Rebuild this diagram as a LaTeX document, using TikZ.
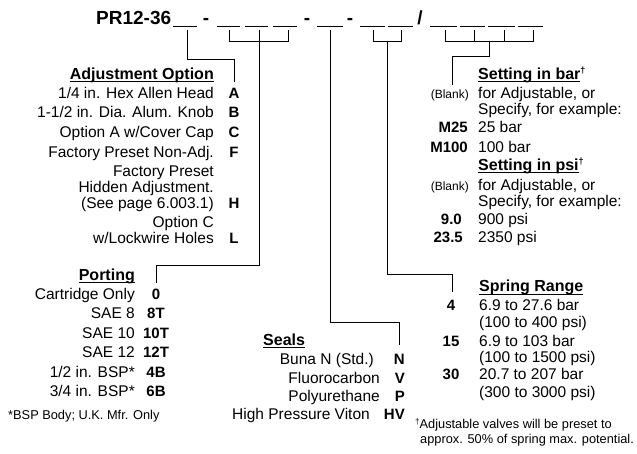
\documentclass[tikz,border=0pt]{standalone}
\usepackage{fontspec}
\setmainfont{Liberation Sans}
\newcommand\myul[1]{\setbox0\hbox{#1}\rlap{\rule[-2.4pt]{\wd0}{0.9pt}}\box0}
\begin{document}
\begin{tikzpicture}[x=1pt,y=-1pt,
  txt/.style={inner sep=0pt, font=\fontsize{15.5}{17}\selectfont},
  rt/.style={txt, anchor=base east},
  lt/.style={txt, anchor=base west},
  cd/.style={inner sep=0pt, anchor=base, font=\fontsize{15}{17}\selectfont\bfseries},
  cdr/.style={cd, anchor=base east},
  hd/.style={inner sep=0pt, font=\fontsize{16}{18}\selectfont\bfseries},
  sm/.style={inner sep=0pt, anchor=base east, font=\fontsize{12}{14}\selectfont},
  fn/.style={inner sep=0pt, anchor=base west, font=\fontsize{12.8}{15}\selectfont},
  ttl/.style={inner sep=0pt, anchor=base, font=\fontsize{19}{21}\selectfont\bfseries},
  wire/.style={line width=0.9pt},
  blank/.style={line width=0.9pt}]
\useasboundingbox (0,0) rectangle (637,454);

% ---------- title and blanks ----------
\node[ttl, anchor=base west] (title) at (96,25) {PR12-36};
\node[ttl] (d1) at (206,25) {-};
\node[ttl] (d2) at (307,25) {-};
\node[ttl] (d3) at (350,25) {-};
\node[ttl] (sl) at (420,25) {/};

\foreach \a/\b in {173/197, 217/240, 245/268, 273/297, 317/343,
                   360/385, 388/413, 430/457, 460/485, 488/515, 518/543}
  \draw[blank] (\a,26) -- (\b,26);

% tick coordinates
\coordinate (b1) at (187,30);
\coordinate (p1) at (229,30); \coordinate (p2) at (259,30); \coordinate (p3) at (288,30);
\coordinate (s1) at (330,30);
\coordinate (r1) at (373,30); \coordinate (r2) at (401,30);
\coordinate (k1) at (445,30); \coordinate (k2) at (474,30); \coordinate (k3) at (504,30); \coordinate (k4) at (533,30);

% connector end points
\coordinate (adjend) at (234,82);
\coordinate (portend) at (156,283);
\coordinate (sealend) at (399,345);
\coordinate (sprend) at (452,292);
\coordinate (setend) at (452,85);

% brackets
\draw[wire] (p1) -- ++(0,11) -| (p3);
\draw[wire] (p2) -- ++(0,11);
\draw[wire] (r1) -- ++(0,11) -| (r2);
\draw[wire] (k1) -- ++(0,11) -| (k4);
\draw[wire] (k2) -- ++(0,11);
\draw[wire] (k3) -- ++(0,11);

% connectors
\draw[wire] (b1) |- (234,59) -- (adjend);
\draw[wire] (p2) -- (259,265) -| (portend);
\draw[wire] (s1) -- (330,322) -| (sealend);
\draw[wire] (387,41) -- (387,274) -| (sprend);
\draw[wire] (489,41) -- (489,56) -| (setend);

% ---------- Adjustment Option ----------
\node[hd, anchor=base east] (hadj) at (214,80) {\myul{Adjustment Option}};
\node[rt] (a1) at (214,99) {1/4 in. Hex Allen Head};
\node[cd] (cA) at (234,99) {A};
\node[rt] (a2) at (214,118) {1-1/2 in. Dia. Alum. Knob};
\node[cd] (cB) at (234,118) {B};
\node[rt] (a3) at (214,138) {Option A w/Cover Cap};
\node[cd] (cC) at (234,138) {C};
\node[rt] (a4) at (214,158) {Factory Preset Non-Adj.};
\node[cd] (cF) at (234,158) {F};
\node[rt] (a5) at (214,177) {Factory Preset};
\node[rt] (a6) at (214,193) {Hidden Adjustment.};
\node[rt] (a7) at (214,209) {(See page 6.003.1)};
\node[cd] (cH) at (234,209) {H};
\node[rt] (a8) at (214,228) {Option C};
\node[rt] (a9) at (214,244) {w/Lockwire Holes};
\node[cd] (cL) at (234,244) {L};

% ---------- Setting ----------
\node[hd, anchor=base west] (hbar) at (478,80) {\myul{Setting in bar}\raisebox{6pt}{\fontsize{9}{9}\selectfont †}};
\node[sm] (bl1) at (469,99) {(Blank)};
\node[lt] (g1) at (478,99) {for Adjustable, or};
\node[lt] (g2) at (478,115) {Specify, for example:};
\node[cdr] (cM25) at (468,133) {M25};
\node[lt] (g3) at (478,133) {25 bar};
\node[cdr] (cM100) at (468,153) {M100};
\node[lt] (g4) at (478,153) {100 bar};
\node[hd, anchor=base west] (hpsi) at (478,171) {\myul{Setting in psi}\raisebox{6pt}{\fontsize{9}{9}\selectfont †}};
\node[sm] (bl2) at (469,191) {(Blank)};
\node[lt] (g5) at (478,191) {for Adjustable, or};
\node[lt] (g6) at (478,207) {Specify, for example:};
\node[cdr] (c90) at (462,225) {9.0};
\node[lt] (g7) at (478,225) {900 psi};
\node[cdr] (c235) at (463,243) {23.5};
\node[lt] (g8) at (478,243) {2350 psi};

% ---------- Porting ----------
\node[hd, anchor=base east] (hport) at (135,280) {\myul{Porting}};
\node[rt] (q1) at (135,299) {Cartridge Only};
\node[cd] (c0) at (156,299) {0};
\node[rt] (q2) at (135,319) {SAE 8};
\node[cd] (c8T) at (156,319) {8T};
\node[rt] (q3) at (135,338) {SAE 10};
\node[cd] (c10T) at (156,338) {10T};
\node[rt] (q4) at (135,357) {SAE 12};
\node[cd] (c12T) at (156,357) {12T};
\node[rt] (q5) at (135,377) {1/2 in. BSP*};
\node[cd] (c4B) at (156,377) {4B};
\node[rt] (q6) at (135,396) {3/4 in. BSP*};
\node[cd] (c6B) at (156,396) {6B};
\node[fn] (bspnote) at (8,419) {*BSP Body; U.K. Mfr. Only};

% ---------- Seals ----------
\node[hd, anchor=base west] (hseal) at (263,345) {\myul{Seals}};
\node[rt] (e1) at (374,364) {Buna N (Std.)};
\node[cdr] (cN) at (405,364) {N};
\node[rt] (e2) at (380,383) {Fluorocarbon};
\node[cdr] (cV) at (405,383) {V};
\node[rt] (e3) at (380,401) {Polyurethane};
\node[cdr] (cP) at (405,401) {P};
\node[rt] (e4) at (370,419) {High Pressure Viton};
\node[cdr] (cHV) at (405,419) {HV};

% ---------- Spring Range ----------
\node[hd, anchor=base west] (hspr) at (479,292) {\myul{Spring Range}};
\node[cd] (c4) at (451,310) {4};
\node[lt] (h1) at (479,310) {6.9 to 27.6 bar};
\node[lt] (h2) at (479,327) {(100 to 400 psi)};
\node[cd] (c15) at (451,346) {15};
\node[lt] (h3) at (479,346) {6.9 to 103 bar};
\node[lt] (h4) at (479,362) {(100 to 1500 psi)};
\node[cd] (c30) at (451,379) {30};
\node[lt] (h5) at (479,379) {20.7 to 207 bar};
\node[lt] (h6) at (479,397) {(300 to 3000 psi)};
\node[fn] (adjnote1) at (415,428) {\raisebox{4pt}{\fontsize{8}{8}\selectfont †}Adjustable valves will be preset to};
\node[fn] (adjnote2) at (420,443) {approx. 50\% of spring max. potential.};
\end{tikzpicture}
\end{document}
